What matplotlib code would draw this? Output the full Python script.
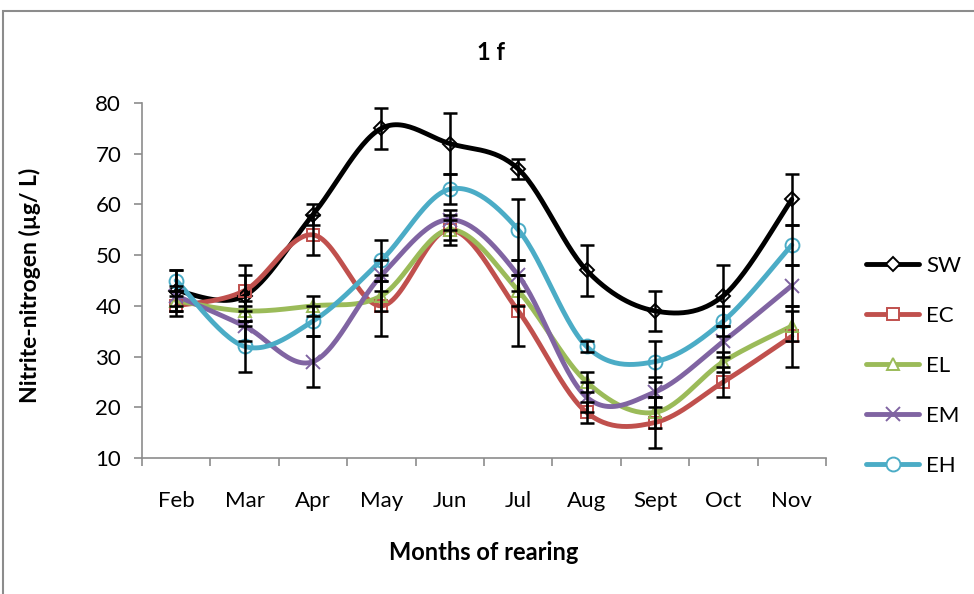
import numpy as np
import matplotlib
matplotlib.use('Agg')
import matplotlib.pyplot as plt
from matplotlib.lines import Line2D
from matplotlib.patches import Rectangle

plt.rcParams['font.family'] = ['Lato', 'DejaVu Sans']

months = ['Feb', 'Mar', 'Apr', 'May', 'Jun', 'Jul', 'Aug', 'Sept', 'Oct', 'Nov']

SW = [43, 42, 58, 75, 72, 67, 47, 39, 42, 61]
EC = [40, 43, 54, 40, 55, 39, 19, 17, 25, 34]
EL = [41, 39, 40, 42, 55, 43, 25, 19, 29, 36]
EM = [42, 36, 29, 46, 57, 46, 22, 23, 33, 44]
EH = [45, 32, 37, 49, 63, 55, 32, 29, 37, 52]

SW_err = [4, 6, 2, 4, 6, 2, 5, 4, 6, 5]
EC_err = [2, 3, 4, 6, 3, 7, 2, 5, 3, 6]
EL_err = [2, 2, 2, 3, 2, 3, 2, 3, 2, 3]
EM_err = [2, 3, 5, 3, 2, 3, 3, 3, 3, 4]
EH_err = [2, 5, 3, 4, 3, 6, 1, 4, 3, 4]

names = ['SW', 'EC', 'EL', 'EM', 'EH']
series = [SW, EC, EL, EM, EH]
errors = [SW_err, EC_err, EL_err, EM_err, EH_err]
colors = ['#000000', '#C0504D', '#9BBB59', '#8064A2', '#4BACC6']
markers = ['D', 's', '^', 'x', 'o']
msizes = [7, 8, 9, 10, 10]


def smooth(x, y, n=30):
    # excel-like smoothed line (catmull-rom bezier)
    x = np.asarray(x, float)
    y = np.asarray(y, float)
    px = np.concatenate([[x[0]], x, [x[-1]]])
    py = np.concatenate([[y[0]], y, [y[-1]]])
    xs, ys = [], []
    t = np.linspace(0, 1, n)
    for i in range(1, len(px) - 2):
        p1 = np.array([px[i], py[i]])
        p2 = np.array([px[i + 1], py[i + 1]])
        c1 = p1 + (p2 - np.array([px[i - 1], py[i - 1]])) / 6.0
        c2 = p2 - (np.array([px[i + 2], py[i + 2]]) - p1) / 6.0
        b = ((1 - t) ** 3)[:, None] * p1 + (3 * (1 - t) ** 2 * t)[:, None] * c1 \
            + (3 * (1 - t) * t ** 2)[:, None] * c2 + (t ** 3)[:, None] * p2
        xs.extend(b[:, 0])
        ys.extend(b[:, 1])
    return np.array(xs), np.array(ys)


fig = plt.figure(figsize=(9.74, 5.94), dpi=100)
fig.patches.append(Rectangle((3 / 974, -0.1), 1.2, 1 - 11 / 594 + 0.1, transform=fig.transFigure,
                             fill=False, edgecolor='#8C8C8C', linewidth=1.5))
ax = fig.add_axes([142 / 974, 1 - 458 / 594, (826 - 142) / 974, (458 - 103) / 594])

x = np.arange(len(months))
handles = []
for name, ys, err, c, m, ms in zip(names, series, errors, colors, markers, msizes):
    sx, sy = smooth(x, ys)
    ax.plot(sx, sy, color=c, lw=3.5, solid_capstyle='round', zorder=2)
    ax.plot(x, ys, ls='none', marker=m, ms=ms, mfc='none', mec=c, mew=1.4, zorder=3)
    ax.errorbar(x, ys, yerr=err, fmt='none', ecolor='black', elinewidth=1.8,
                capsize=5, capthick=1.8, zorder=4)
    handles.append(Line2D([], [], color=c, lw=3.5, marker=m, ms=ms, mfc='white',
                          mec=c, mew=1.4, solid_capstyle='round'))

ax.set_xlim(-0.5, len(months) - 0.5)
ax.set_ylim(10, 80)
ax.set_yticks(range(10, 81, 10))
ax.set_xticks(x)
ax.set_xticklabels(months)
ax.set_xticks(np.arange(-0.5, len(months)), minor=True)
ax.tick_params(axis='x', which='major', length=0, pad=24, labelsize=16)
ax.tick_params(axis='x', which='minor', length=6, width=1.2, color='#8C8C8C')
ax.tick_params(axis='y', length=6, width=1.2, color='#8C8C8C', labelsize=16, pad=9)
for s in ['top', 'right']:
    ax.spines[s].set_visible(False)
for s in ['left', 'bottom']:
    ax.spines[s].set_color('#8C8C8C')
    ax.spines[s].set_linewidth(1.2)

fig.text(491 / 974, 1 - 52 / 594, '1 f', ha='center', va='center', fontsize=17, fontweight='bold')
fig.text(484 / 974, 1 - 552 / 594, 'Months of rearing', ha='center', va='center',
         fontsize=17, fontweight='bold')
fig.text(30 / 974, 1 - 285 / 594, 'Nitrite-nitrogen (µg/ L)', ha='center', va='center',
         rotation=90, fontsize=16.5, fontweight='bold')

fig.legend(handles, names, loc='center left', bbox_to_anchor=(866 / 974, 1 - 366 / 594),
           frameon=False, fontsize=16, handlelength=2.4, labelspacing=1.35,
           handletextpad=0.3, borderpad=0, borderaxespad=0)

fig.savefig('out.png', dpi=100)
